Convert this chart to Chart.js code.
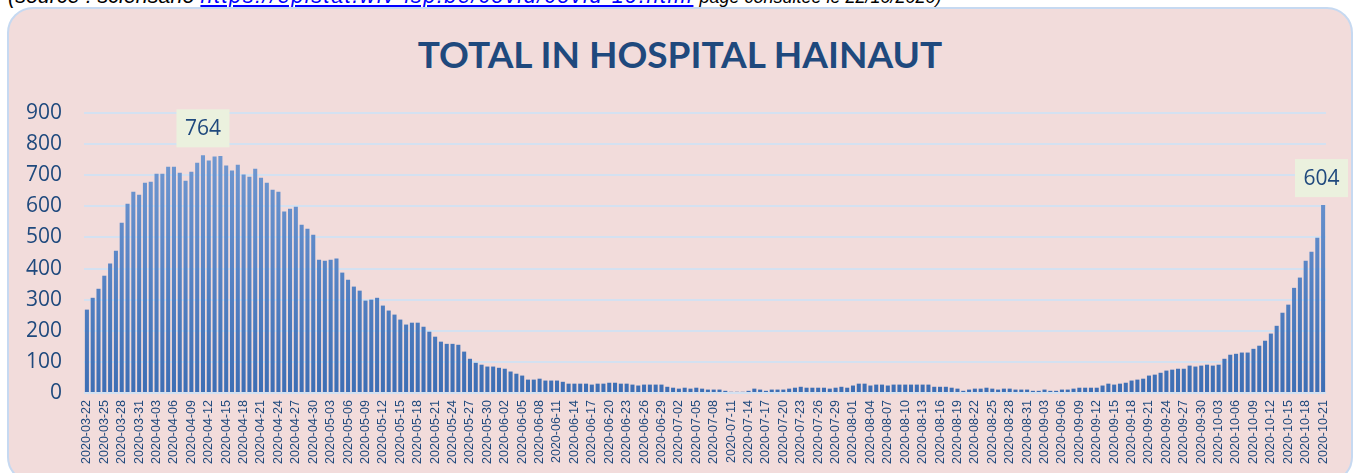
<!DOCTYPE html>
<html>
<head>
<meta charset="utf-8">
<script src="https://cdn.jsdelivr.net/npm/chart.js@4"></script>
<style>
  body { margin: 0; background: #ffffff; width: 1357px; height: 473px; overflow: hidden; position: relative; }
  #source { position: absolute; left: 8px; top: -16px; font: italic 21.5px "Liberation Sans", sans-serif; color: #000; white-space: nowrap; }
  #source a { color: #0000ff; text-decoration: underline; letter-spacing: 1.6px; }
  #source .fin { font-size: 18px; }
  #panel { position: absolute; left: 7px; top: 7px; width: 1342px; height: 472px; background: #f2dcdb; border: 2px solid #c6d9f1; border-radius: 26px; }
  #titre { position: absolute; left: 7px; width: 1346px; top: 31px; text-align: center; font: bold 37px Lato, sans-serif; color: #1f497d; }
  #wrap { position: absolute; left: 0; top: 0; width: 1357px; height: 473px; }
</style>
</head>
<body>
<div id="source">(source : sciensano <a>https://epistat.wiv-isp.be/covid/covid-19.html</a> <span class="fin">page consultée le 22/10/2020)</span></div>
<div id="panel"></div>
<div id="titre">TOTAL IN HOSPITAL HAINAUT</div>
<div id="wrap"><canvas id="hospChart" width="1357" height="473"></canvas></div>
<script>
// Premier jour de la série
const START_DATE = '2020-03-22';

// Total hospitalisés Hainaut (un point par jour, 22/03 -> 21/10)
const marsAvril = [268, 306, 335, 377, 416, 457, 547, 608, 647, 637,
    676, 679, 705, 705, 727, 727, 708, 682, 711, 740,
    764, 747, 760, 762, 731, 715, 734, 702, 695, 721,
    692, 676, 653, 647, 583, 592, 599, 541, 528, 509];
const maiJuin = [428, 425, 428, 432, 387, 364, 342, 329, 297, 300,
    306, 281, 265, 252, 236, 220, 226, 226, 213, 197,
    181, 165, 158, 158, 155, 133, 110, 97, 91, 85,
    85, 81, 78, 69, 62, 56, 43, 43, 46, 40,
    40, 40, 36, 30, 30, 30, 30, 27, 30, 30];
const juinJuillet = [33, 33, 30, 30, 27, 24, 27, 27, 27, 27,
    20, 17, 14, 17, 14, 17, 14, 11, 11, 11,
    7, 4, 4, 4, 7, 14, 11, 7, 11, 11,
    11, 14, 17, 20, 17, 17, 17, 17, 14, 17,
    20, 17, 24, 30, 30, 24, 27, 27, 24, 27];
const aoutSeptembre = [27, 27, 27, 27, 27, 27, 20, 20, 20, 17,
    14, 7, 11, 14, 14, 17, 14, 11, 14, 14,
    11, 11, 11, 7, 7, 11, 7, 7, 11, 11,
    14, 17, 17, 17, 17, 24, 30, 27, 30, 33,
    40, 43, 46, 56, 59, 65, 72, 75, 78, 78];
const octobre = [88, 85, 88, 91, 88, 91, 110, 123, 126, 130,
    130, 142, 152, 168, 191, 216, 258, 284, 338, 371,
    425, 454, 499, 604];

const totalHosp = [].concat(marsAvril, maiJuin, juinJuillet, aoutSeptembre, octobre);

// Étiquettes de date (une par barre)
const dateLabels = [];
const d0 = new Date(START_DATE + 'T00:00:00Z');
for (let i = 0; i < totalHosp.length; i++) {
    const d = new Date(d0.getTime() + i * 86400000);
    dateLabels.push(d.toISOString().slice(0, 10));
}

// Valeurs mises en évidence
const highlighted = ['2020-04-11', '2020-10-21'];

const TEXT_BLUE = '#1f497d';

// Étiquettes encadrées au-dessus des barres choisies
const boxLabels = {
    id: 'boxLabels',
    afterDatasetsDraw(chart) {
        const ctx = chart.ctx;
        const meta = chart.getDatasetMeta(0);
        ctx.save();
        ctx.font = '21px "Open Sans", sans-serif';
        ctx.textAlign = 'center';
        ctx.textBaseline = 'middle';
        highlighted.forEach(lab => {
            const i = dateLabels.indexOf(lab);
            if (i < 0) return;
            const bar = meta.data[i];
            const x = bar.x;
            const yTop = chart.scales.y.getPixelForValue(totalHosp[i]);
            const w = 53, h = 38;
            const bx = Math.min(x - w / 2, chart.width - w - 9);
            ctx.fillStyle = '#ebf1de';
            ctx.fillRect(bx, yTop - 8 - h, w, h);
            ctx.fillStyle = TEXT_BLUE;
            ctx.fillText(String(totalHosp[i]), bx + w / 2, yTop - 8 - h / 2 + 1);
        });
        ctx.restore();
    }
};

const ctx = document.getElementById('hospChart').getContext('2d');
const hospChart = new Chart(ctx, {
    type: 'bar',
    data: {
        labels: dateLabels,
        datasets: [{
            label: 'Total in hospital',
            data: totalHosp,
            backgroundColor: (c) => {
                const area = c.chart.chartArea;
                if (!area) return '#4a78bd';
                const g = c.chart.ctx.createLinearGradient(0, area.top, 0, area.bottom);
                g.addColorStop(0, '#7a9fd4');
                g.addColorStop(0.5, '#5b87c7');
                g.addColorStop(1, '#3d6eb4');
                return g;
            },
            barPercentage: 0.7,
            categoryPercentage: 1
        }]
    },
    options: {
        responsive: false,
        animation: false,
        layout: { padding: { left: 0, right: 31, top: 113, bottom: 0 } },
        plugins: {
            legend: { display: false },
            tooltip: { enabled: false }
        },
        scales: {
            x: {
                grid: { display: false, drawTicks: false },
                border: { display: false },
                afterFit(scale) { scale.height = 80; },
                ticks: {
                    autoSkip: false,
                    minRotation: 90,
                    maxRotation: 90,
                    padding: 7,
                    color: TEXT_BLUE,
                    font: { family: '"Liberation Sans"', size: 12.5 },
                    callback: (v, i) => (i % 3 === 0 ? dateLabels[i] : '')
                }
            },
            y: {
                min: 0,
                max: 900,
                afterFit(scale) { scale.width = 84; },
                grid: { color: '#d4e1f1', lineWidth: 2, drawTicks: false },
                border: { display: false },
                ticks: {
                    stepSize: 100,
                    padding: 22,
                    color: TEXT_BLUE,
                    font: { family: '"Open Sans"', size: 21 }
                }
            }
        }
    },
    plugins: [boxLabels]
});
</script>
</body>
</html>
